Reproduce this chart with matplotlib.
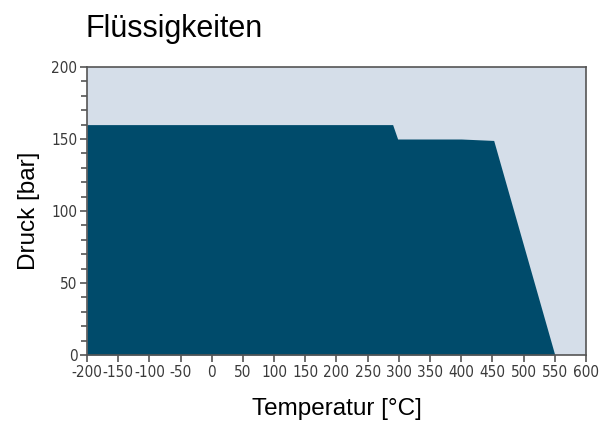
import matplotlib
matplotlib.use("Agg")
import matplotlib.pyplot as plt
from matplotlib.ticker import MultipleLocator

plt.rcParams["axes.unicode_minus"] = False

temperature = [-200, 290, 298, 400, 452, 550]
pressure = [160, 160, 150, 150, 149, 0]
x_ticks = list(range(-200, 601, 50))
y_ticks = [0, 50, 100, 150, 200]
x_labels = [str(v) for v in x_ticks]
y_labels = [str(v) for v in y_ticks]

fig = plt.figure(figsize=(5.99, 4.26), dpi=100)
ax = fig.add_axes([0.1452, 0.1667, 0.8331, 0.676])
ax.set_facecolor("#d5dee9")
ax.fill_between(temperature, pressure, 0, color="#004b6b", linewidth=0)
ax.set_xlim(-200, 600)
ax.set_ylim(0, 200)
ax.set_xticks(x_ticks)
ax.set_xticklabels(x_labels)
ax.set_yticks(y_ticks)
ax.set_yticklabels(y_labels)
ax.yaxis.set_minor_locator(MultipleLocator(10))
for s in ax.spines.values():
    s.set_color("#555555")
    s.set_linewidth(1.2)
ax.tick_params(axis="both", which="major", direction="out", length=5, width=1.2,
               color="#555555", labelcolor="#3a3a3a", labelsize=11, pad=2)
ax.tick_params(axis="y", which="minor", direction="out", length=4, width=1.2, color="#555555")
for lab in ax.get_xticklabels() + ax.get_yticklabels():
    lab.set_fontfamily("DejaVu Sans")
    lab.set_fontstretch("condensed")
ax.set_xlabel("Temperatur [°C]", fontsize=17.5, family="Liberation Sans", labelpad=13)
ax.set_ylabel("Druck [bar]", fontsize=17.5, family="Liberation Sans", labelpad=8)
fig.text(0.142, 0.932, "Flüssigkeiten", fontsize=22, family="Liberation Sans", va="center", ha="left")
fig.savefig("out.png", dpi=100)
